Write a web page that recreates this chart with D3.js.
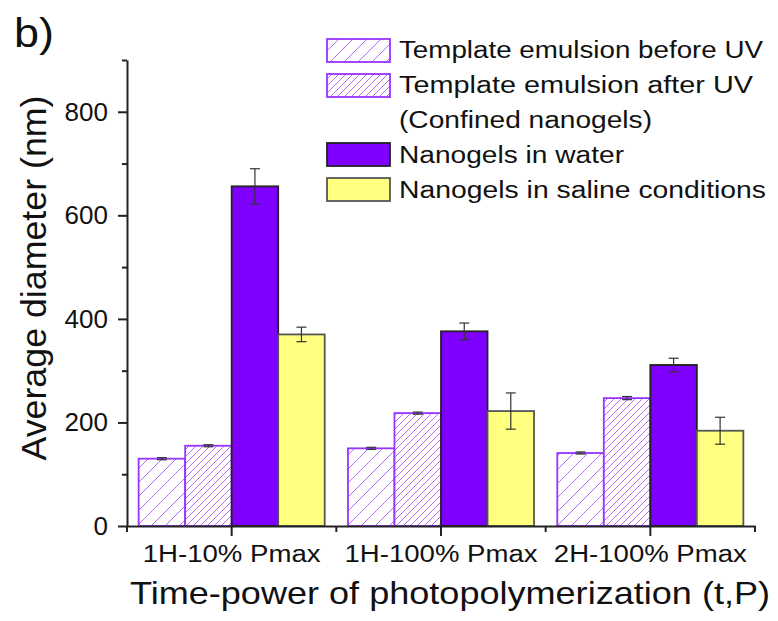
<!DOCTYPE html>
<html lang="en">
<head>
  <meta charset="UTF-8">
  <title>Average diameter of nanogels</title>
  <style>
    body { margin: 0; background: #fff; }
    svg { display: block; font-family: 'Liberation Sans', Arial, sans-serif; }
  </style>
</head>
<body>
  <div id="chart"></div>
  <script src="https://d3js.org/d3.v7.min.js"></script>
  <script>
    // data
    const categories = ['1H-10% Pmax', '1H-100% Pmax', '2H-100% Pmax']
    const seriesNames = [
      ['Template emulsion before UV'],
      ['Template emulsion after UV', '(Confined nanogels)'],
      ['Nanogels in water'],
      ['Nanogels in saline conditions']
    ]
    const beforeUV = [130, 150, 141]
    const beforeUVErr = [2, 2, 2]
    const afterUV = [155, 218, 247]
    const afterUVErr = [2, 2, 3]
    const water = [656, 376, 311]
    const waterErr = [34, 16, 13]
    const saline = [370, 222, 184]
    const salineErr = [14, 35, 26]
    const yTicks = [0, 200, 400, 600, 800]

    const width = 778
    const height = 621
    const margin = { top: 60, right: 23, bottom: 95, left: 127 }
    const innerW = width - margin.left - margin.right
    const innerH = height - margin.top - margin.bottom

    const series = [
      { key: 'before', values: beforeUV, errs: beforeUVErr, fill: 'url(#hatchWide)', stroke: '#9933ff' },
      { key: 'after', values: afterUV, errs: afterUVErr, fill: 'url(#hatchDense)', stroke: '#9933ff' },
      { key: 'water', values: water, errs: waterErr, fill: '#8000ff', stroke: '#222' },
      { key: 'saline', values: saline, errs: salineErr, fill: '#ffff80', stroke: '#555' }
    ]

    const svg = d3.select('#chart').append('svg')
      .attr('width', width)
      .attr('height', height)

    // the original lettering is a little wider than Liberation Sans, so text is stretched to its measured width
    function label(sel, x, y, size, len, txt, anchor) {
      return sel.append('text')
        .attr('x', x)
        .attr('y', y)
        .attr('font-size', size)
        .attr('fill', '#111')
        .attr('text-anchor', anchor || 'start')
        .attr('textLength', len)
        .attr('lengthAdjust', 'spacingAndGlyphs')
        .text(txt)
    }

    // hatch patterns
    const defs = svg.append('defs')
    function hatch(id, step) {
      const p = defs.append('pattern')
        .attr('id', id)
        .attr('patternUnits', 'userSpaceOnUse')
        .attr('width', step)
        .attr('height', step)
      p.append('rect').attr('width', step).attr('height', step).attr('fill', '#fff')
      p.append('path')
        .attr('d', `M0,${step} L${step},0 M${-step / 2},${step / 2} L${step / 2},${-step / 2} M${step / 2},${step * 1.5} L${step * 1.5},${step / 2}`)
        .attr('stroke', '#b56cff')
        .attr('stroke-width', 1)
    }
    hatch('hatchWide', 14)
    hatch('hatchDense', 7)

    const g = svg.append('g')
      .attr('transform', `translate(${margin.left},${margin.top})`)

    const x0 = d3.scaleBand()
      .domain(categories)
      .range([0, innerW])
      .padding(0)

    const x1 = d3.scaleBand()
      .domain(series.map(d => d.key))
      .range([0, x0.bandwidth()])
      .paddingInner(0)
      .paddingOuter(0.25)

    const y = d3.scaleLinear()
      .domain([0, 900])
      .range([innerH, 0])

    // bars
    series.forEach(s => {
      const sg = g.append('g')
      sg.selectAll('rect')
        .data(categories)
        .join('rect')
        .attr('x', (c) => x0(c) + x1(s.key))
        .attr('y', (c, i) => y(s.values[i]))
        .attr('width', x1.bandwidth())
        .attr('height', (c, i) => y(0) - y(s.values[i]))
        .attr('fill', s.fill)
        .attr('stroke', s.stroke)
        .attr('stroke-width', 1.8)

      // error bars
      const eg = sg.selectAll('g.err')
        .data(categories)
        .join('g')
        .attr('class', 'err')
        .attr('stroke', '#333')
        .attr('stroke-width', 1.2)
      const cx = c => x0(c) + x1(s.key) + x1.bandwidth() / 2
      const hi = (c, i) => y(s.values[i] + s.errs[i])
      const lo = (c, i) => y(s.values[i] - s.errs[i])
      eg.append('line')
        .attr('x1', cx).attr('x2', cx)
        .attr('y1', hi)
        .attr('y2', lo)
      eg.append('line')
        .attr('x1', c => cx(c) - 5).attr('x2', c => cx(c) + 5)
        .attr('y1', hi).attr('y2', hi)
      eg.append('line')
        .attr('x1', c => cx(c) - 5).attr('x2', c => cx(c) + 5)
        .attr('y1', lo).attr('y2', lo)
    })

    // y axis: major ticks with labels, minor ticks between
    const yAxis = g.append('g')
      .call(d3.axisLeft(y).tickValues(yTicks).tickSize(9).tickPadding(10).tickSizeOuter(0))
    yAxis.select('.domain').attr('stroke', '#222').attr('stroke-width', 2)
    yAxis.selectAll('.tick line').attr('stroke', '#222').attr('stroke-width', 2)
    yAxis.selectAll('text')
      .attr('font-size', 26)
      .attr('fill', '#111')
      .attr('font-family', "'Liberation Sans', Arial, sans-serif")
    const yMinor = g.append('g')
      .call(d3.axisLeft(y).tickValues([100, 300, 500, 700, 900]).tickSize(5).tickFormat(''))
    yMinor.select('.domain').remove()
    yMinor.selectAll('.tick line').attr('stroke', '#222').attr('stroke-width', 2)

    // x axis: major ticks at category centres, minor at group edges
    const xAxis = g.append('g')
      .attr('transform', `translate(0,${innerH})`)
      .call(d3.axisBottom(x0).tickSize(10).tickFormat('').tickSizeOuter(0))
    xAxis.select('.domain').attr('stroke', '#222').attr('stroke-width', 2)
    xAxis.selectAll('.tick line').attr('stroke', '#222').attr('stroke-width', 2)
    const catLen = [178, 193, 193]
    categories.forEach((c, i) => {
      label(g, x0(c) + x0.bandwidth() / 2, innerH + 36, 23, catLen[i], c, 'middle')
    })
    const edges = categories.map(c => x0(c)).concat([innerW])
    g.append('g')
      .selectAll('line')
      .data(edges)
      .join('line')
      .attr('x1', d => d).attr('x2', d => d)
      .attr('y1', innerH).attr('y2', innerH + 6)
      .attr('stroke', '#222')
      .attr('stroke-width', 2)

    // axis titles
    label(svg, 450, 604, 32, 640, 'Time-power of photopolymerization (t,P)', 'middle')

    label(svg, 0, 0, 35, 365, 'Average diameter (nm)', 'middle')
      .attr('transform', `translate(46,278) rotate(-90)`)

    label(svg, 14, 47, 40, 40, 'b)')

    // legend
    const boxY = [39, 74, 143, 178]
    const textY = [[58], [93, 128], [163], [198]]
    const textLen = [[364], [354, 253], [225], [367]]
    const legend = svg.append('g')
    series.forEach((s, i) => {
      legend.append('rect')
        .attr('x', 327)
        .attr('y', boxY[i])
        .attr('width', 63)
        .attr('height', 23)
        .attr('fill', s.fill)
        .attr('stroke', s.stroke)
        .attr('stroke-width', 1.8)
      seriesNames[i].forEach((line, j) => {
        label(legend, 399, textY[i][j], 23, textLen[i][j], line)
      })
    })
  </script>
</body>
</html>
